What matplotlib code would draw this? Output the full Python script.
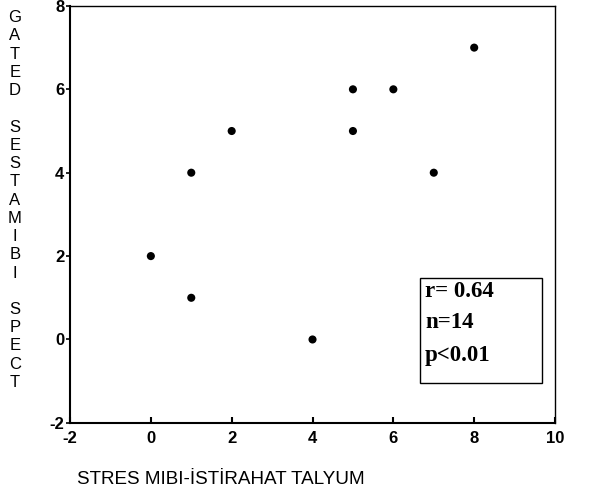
import matplotlib
matplotlib.use("Agg")
import matplotlib.pyplot as plt
from matplotlib.patches import Rectangle

# stres mibi - istirahat talyum vs gated sestamibi spect
x_vals = [0, 1, 1, 2, 4, 5, 5, 6, 7, 8]
y_vals = [2, 1, 4, 5, 0, 6, 5, 6, 4, 7]

x_ticks = [-2, 0, 2, 4, 6, 8, 10]
y_ticks = [-2, 0, 2, 4, 6, 8]

stats_lines = ["r= 0.64", "n=14", "p<0.01"]

xlabel = "STRES MIBI-İSTİRAHAT TALYUM"
ylabel_words = ["GATED", "SESTAMIBI", "SPECT"]

plt.rcParams["font.family"] = ["Liberation Sans", "DejaVu Sans"]

fig = plt.figure(figsize=(6.01, 4.94), dpi=100)
ax = fig.add_axes([0.1165, 0.144, 0.807, 0.844])

ax.scatter(x_vals, y_vals, s=34, color="black", edgecolors="none", zorder=3)

ax.set_xlim(-2, 10)
ax.set_ylim(-2, 8)
ax.set_xticks(x_ticks)
ax.set_yticks(y_ticks)
ax.set_xticklabels([str(v) for v in x_ticks], fontsize=12, fontweight="bold")
ax.set_yticklabels([str(v) for v in y_ticks], fontsize=12, fontweight="bold")
ax.tick_params(axis="x", direction="in", length=4, width=1.5, pad=6)
ax.tick_params(axis="y", direction="out", length=3, width=1.2, pad=1)
for sp in ax.spines.values():
    sp.set_linewidth(1.0)
ax.spines["left"].set_linewidth(1.5)
ax.spines["bottom"].set_linewidth(1.5)

# stacked vertical letters for y label
ylab = "\n\n".join("\n".join(w) for w in ylabel_words)
fig.text(0.025, 0.595, ylab, fontsize=12, ha="center", va="center",
         multialignment="center", linespacing=1.27)

fig.text(0.128, 0.03, xlabel, fontsize=13.6, ha="left", va="center")

# stats box
ax.add_patch(Rectangle((0.722, 0.096), 0.251, 0.252, transform=ax.transAxes,
                       fill=False, edgecolor="black", linewidth=1.0, zorder=4))
for txt, yy in zip(stats_lines, [0.314, 0.240, 0.161]):
    ax.text(0.732, yy, txt, transform=ax.transAxes, fontsize=16.5,
            fontweight="bold", family="Liberation Serif", ha="left", va="center")

fig.savefig("out.png", dpi=100)
